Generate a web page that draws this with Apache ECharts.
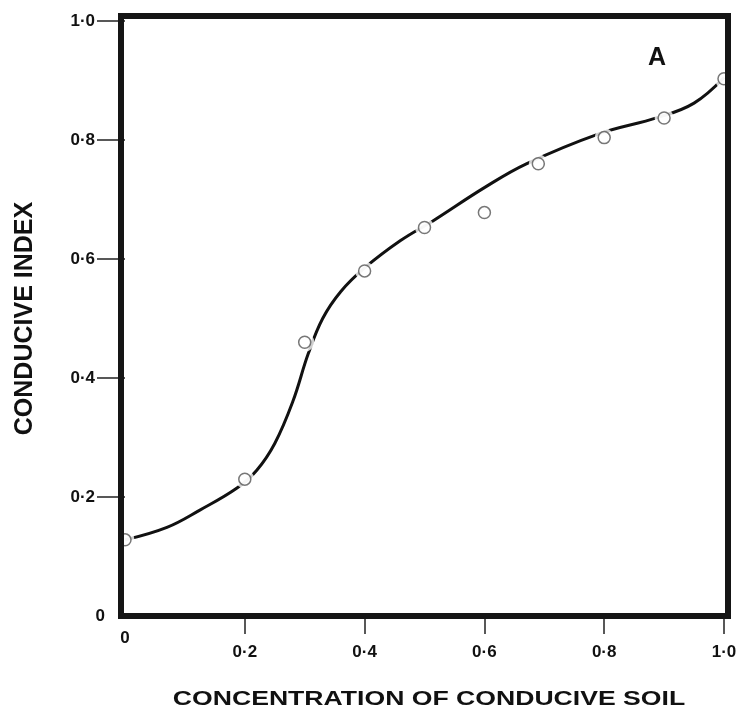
<!DOCTYPE html>
<html>
<head>
<meta charset="utf-8">
<title>Conducive index</title>
<script src="https://cdn.jsdelivr.net/npm/echarts@6/dist/echarts.min.js"></script>
<style>
  html, body { margin: 0; padding: 0; background: #fff; }
  #main { width: 743px; height: 710px; }
</style>
</head>
<body>
<div id="main"></div>
<script>
// tick values
var xTicks = [0, 0.2, 0.4, 0.6, 0.8, 1.0];
var yTicks = [0, 0.2, 0.4, 0.6, 0.8, 1.0];

// observed points (open circles)
var conc = [0, 0.2, 0.3, 0.4, 0.5, 0.6, 0.69, 0.8, 0.9, 1.0];
var condIndex = [0.128, 0.23, 0.46, 0.58, 0.653, 0.678, 0.76, 0.804, 0.837, 0.903];

// fitted curve
var curveX = [0, 0.07, 0.125, 0.187, 0.22, 0.25, 0.28, 0.306, 0.33, 0.36, 0.4, 0.46, 0.514, 0.6, 0.67, 0.79, 0.89, 0.95, 1.0];
var curveY = [0.128, 0.149, 0.178, 0.215, 0.245, 0.29, 0.36, 0.441, 0.5, 0.545, 0.585, 0.631, 0.664, 0.72, 0.76, 0.81, 0.838, 0.862, 0.905];

var font = '"Liberation Sans", Arial, Helvetica, sans-serif';
var ink = '#111';

function fmt(v) {
    if (v === 0) return '0';
    return v.toFixed(1).replace('.', '\u00B7');
}

function pairs(xs, ys) {
    var out = [];
    for (let i = 0; i < xs.length; i++) {
        out.push([xs[i], ys[i]]);
    }
    return out;
}

var labelStyle = { fontSize: 17, fontWeight: 'bold', color: ink, fontFamily: font };

var myChart = echarts.init(document.getElementById('main'));

var option = {
    animation: false,
    backgroundColor: '#fff',
    grid: { left: 125, right: 19, top: 21, bottom: 94, outerBoundsMode: 'none', containLabel: false },
    xAxis: [{
        type: 'value', min: 0, max: 1, interval: 0.2, position: 'bottom',
        axisLine: { show: false },
        splitLine: { show: false },
        axisTick: { customValues: xTicks.slice(1), length: 18, lineStyle: { color: '#222', width: 1.5 } },
        axisLabel: Object.assign({ customValues: xTicks.slice(1), formatter: fmt, margin: 28 }, labelStyle)
    }, {
        type: 'value', min: 0, max: 1, interval: 0.2, position: 'bottom',
        axisLine: { show: false },
        splitLine: { show: false },
        axisTick: { show: false },
        axisLabel: Object.assign({ customValues: [xTicks[0]], formatter: fmt, margin: 14 }, labelStyle)
    }],
    yAxis: [{
        type: 'value', min: 0, max: 1, interval: 0.2, position: 'left',
        axisLine: { show: false },
        splitLine: { show: false },
        axisTick: { customValues: yTicks.slice(1), length: 28, lineStyle: { color: '#222', width: 1.5 } },
        axisLabel: Object.assign({ customValues: yTicks.slice(1), formatter: fmt, margin: 30 }, labelStyle),
        name: 'CONDUCIVE INDEX',
        nameLocation: 'middle',
        nameGap: 87,
        nameTextStyle: { fontSize: 25, fontWeight: 'bold', color: ink, fontFamily: font }
    }, {
        type: 'value', min: 0, max: 1, interval: 0.2, position: 'left',
        axisLine: { show: false },
        splitLine: { show: false },
        axisTick: { show: false },
        axisLabel: Object.assign({ customValues: [yTicks[0]], formatter: fmt, margin: 20 }, labelStyle)
    }],
    graphic: [{
        type: 'rect',
        shape: { x: 121, y: 16, width: 607, height: 600 },
        style: { fill: 'none', stroke: '#151515', lineWidth: 6 },
        z: 100
    }, {
        type: 'text',
        x: 657, y: 58,
        style: { text: 'A', font: 'bold 25px ' + font, fill: ink, align: 'center', verticalAlign: 'middle' },
        z: 100
    }, {
        // x axis title, set in a wide (extended) face in the original
        type: 'text',
        x: 429, y: 699,
        scaleX: 1.33,
        style: { text: 'CONCENTRATION OF CONDUCIVE SOIL', font: 'bold 20px ' + font, fill: ink, align: 'center', verticalAlign: 'middle' },
        z: 100
    }],
    series: [{
        type: 'line',
        data: pairs(curveX, curveY),
        smooth: 0.4,
        showSymbol: false,
        lineStyle: { color: '#111', width: 3 },
        z: 2
    }, {
        // white halo so the curve breaks around each circle
        type: 'scatter',
        data: pairs(conc, condIndex),
        symbolSize: 19,
        itemStyle: { color: '#fff' },
        z: 3
    }, {
        type: 'scatter',
        data: pairs(conc, condIndex),
        symbolSize: 12,
        itemStyle: { color: '#fff', borderColor: '#555', borderWidth: 1.5 },
        z: 4
    }]
};

myChart.setOption(option);
</script>
</body>
</html>
